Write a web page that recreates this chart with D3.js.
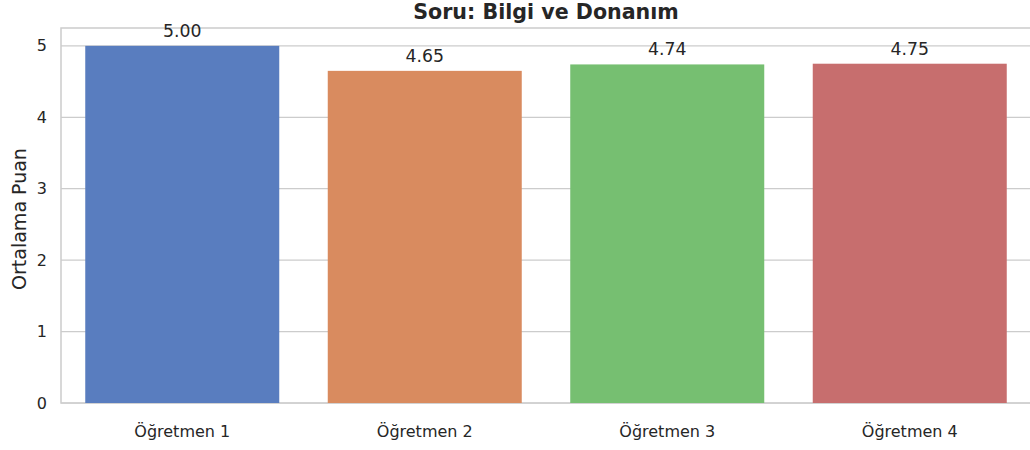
<!DOCTYPE html>
<html>
<head>
<meta charset="utf-8">
<script src="https://cdn.jsdelivr.net/npm/d3@7"></script>
<style>
  body { margin: 0; background: #fff; }
  svg { display: block; }
  text { font-family: "DejaVu Sans", sans-serif; fill: #262626; }
</style>
</head>
<body>
<svg id="chart" width="1030" height="450"></svg>
<script>
// data
var teachers = ["Öğretmen 1", "Öğretmen 2", "Öğretmen 3", "Öğretmen 4"];
var scores = [5.00, 4.65, 4.74, 4.75];
var barColors = ["#597dbf", "#d98b5f", "#76bf71", "#c76e6e"];
var yTicks = [0, 1, 2, 3, 4, 5];
var chartTitle = "Soru: Bilgi ve Donanım";
var yTitle = "Ortalama Puan";

var svg = d3.select("#chart");
var margin = { left: 61, right: -1, top: 28, bottom: 47 };
var W = 1030, H = 450;
var innerW = W - margin.left - margin.right;
var innerH = H - margin.top - margin.bottom;

var g = svg.append("g").attr("transform", "translate(" + margin.left + "," + margin.top + ")");

var x = d3.scaleBand().domain(teachers).range([0, innerW]).paddingInner(0.2).paddingOuter(0.1);
var y = d3.scaleLinear().domain([0, 5.25]).range([innerH, 0]);

// grid
g.append("g").selectAll("line")
    .data(yTicks)
    .enter().append("line")
    .attr("x1", 0).attr("x2", innerW)
    .attr("y1", function (d) { return y(d); })
    .attr("y2", function (d) { return y(d); })
    .style("stroke", "#cccccc").style("stroke-width", 1.2);

// spines
g.append("rect")
    .attr("x", 0).attr("y", 0).attr("width", innerW).attr("height", innerH)
    .style("fill", "none").style("stroke", "#cccccc").style("stroke-width", 1.5);

// bars
g.selectAll(".bar")
    .data(teachers)
    .enter().append("rect")
    .attr("class", "bar")
    .attr("x", function (d) { return x(d); })
    .attr("width", x.bandwidth())
    .attr("y", function (d, i) { return y(scores[i]); })
    .attr("height", function (d, i) { return innerH - y(scores[i]); })
    .style("fill", function (d, i) { return barColors[i]; });

// value labels
g.selectAll(".val")
    .data(teachers)
    .enter().append("text")
    .attr("class", "val")
    .attr("x", function (d) { return x(d) + x.bandwidth() / 2; })
    .attr("y", function (d, i) { return y(scores[i]) - 9; })
    .attr("text-anchor", "middle")
    .style("font-size", "17.3px")
    .text(function (d, i) { return scores[i].toFixed(2); });

// y axis
var yAxis = d3.axisLeft(y).tickValues(yTicks).tickSize(0).tickPadding(14).tickFormat(d3.format("d"));
var ya = g.append("g").call(yAxis);
ya.select(".domain").remove();
ya.selectAll("text").style("font-size", "16px").style("fill", "#262626");

// x axis
var xAxis = d3.axisBottom(x).tickSize(0).tickPadding(23);
var xa = g.append("g").attr("transform", "translate(0," + innerH + ")").call(xAxis);
xa.select(".domain").remove();
xa.selectAll("text").style("font-size", "16px").style("fill", "#262626");

// title
svg.append("text")
    .attr("x", margin.left + innerW / 2)
    .attr("y", 19)
    .attr("text-anchor", "middle")
    .style("font-size", "20.6px")
    .style("font-weight", "bold")
    .text(chartTitle);

// y label
svg.append("text")
    .attr("transform", "translate(26,219) rotate(-90)")
    .attr("text-anchor", "middle")
    .style("font-size", "19px")
    .text(yTitle);
</script>
</body>
</html>
